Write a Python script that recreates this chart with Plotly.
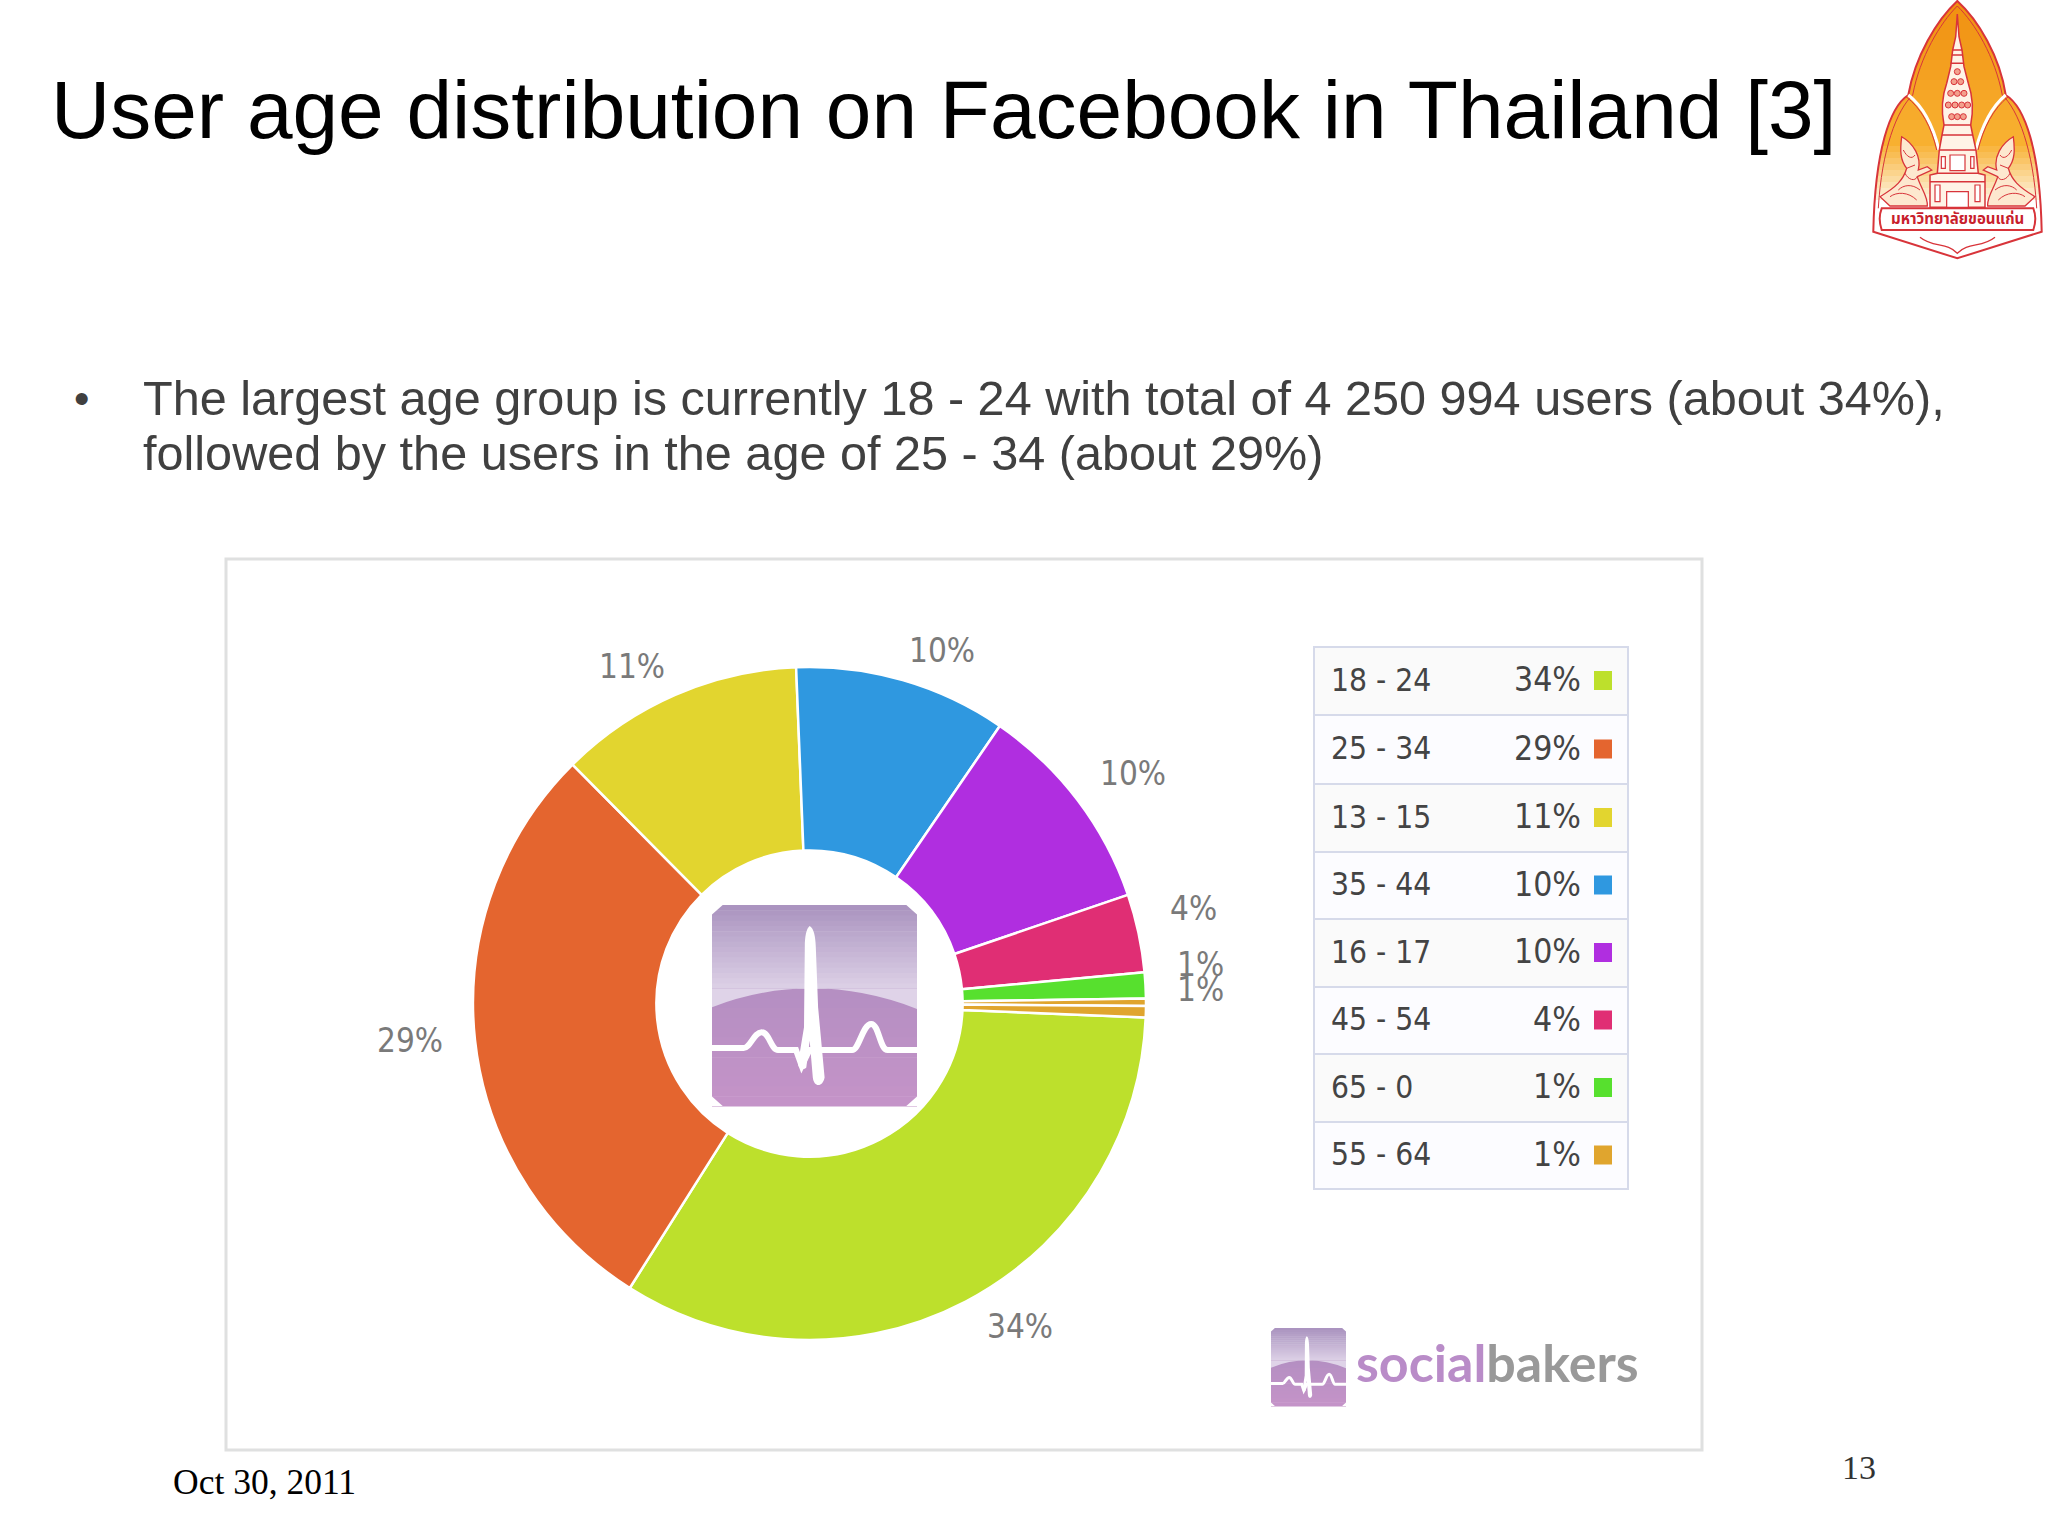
import re
import plotly.graph_objects as go

age_groups = ["18 - 24", "25 - 34", "13 - 15", "35 - 44", "16 - 17", "45 - 54", "65 - 0", "55 - 64"]
age_percent = ["34%", "29%", "11%", "10%", "10%", "4%", "1%", "1%"]
age_colors = ["#bde02c", "#e4652f", "#e2d52f", "#2f98e0", "#b02ee0", "#e02e74", "#57e02e", "#e0a52e"]

# one extra thin slice is in the ring but has no row in the table
slice_names = age_groups + ["other"]
slice_values = [33.3, 28.6, 11.8, 10.2, 10.2, 3.75, 1.25, 0.35, 0.55]
slice_colors = age_colors + ["#e0a52e"]

pie_labels = ["34%", "29%", "11%", "10%", "10%", "4%", "1%", "1%"]
pie_label_x = [1020, 410, 632, 942, 1133, 1193, 1200, 1200]
pie_label_y = [1326, 1040, 666, 650, 773, 908, 964, 989]

W, H = 2048, 1536
cx, cy, r = 809.5, 1003.5, 336.5

shapes = []


def conv(path, ox, oy, s=3.0):
    # zoomed crop coordinates -> page pixels
    def rep(m):
        return f"{ox + float(m.group(1)) / s:.1f},{oy + float(m.group(2)) / s:.1f}"
    return re.sub(r"(-?[\d.]+),(-?[\d.]+)", rep, path)


def add_path(path, fill=None, line=None, width=0):
    shapes.append(dict(type="path", path=path, fillcolor=fill or "rgba(0,0,0,0)",
                       line=dict(color=line or "rgba(0,0,0,0)", width=width), layer="above"))


def add_rect(x0, y0, x1, y1, fill=None, line=None, width=0, layer="above"):
    shapes.append(dict(type="rect", x0=x0, y0=y0, x1=x1, y1=y1, fillcolor=fill or "rgba(0,0,0,0)",
                       line=dict(color=line or "rgba(0,0,0,0)", width=width), layer=layer))


def mix(c1, c2, t):
    a = [int(c1[i:i + 2], 16) for i in (1, 3, 5)]
    b = [int(c2[i:i + 2], 16) for i in (1, 3, 5)]
    return "rgb(%d,%d,%d)" % tuple(round(p + (q - p) * t) for p, q in zip(a, b))


def gradient(x0, x1, y0, y1, c1, c2, steps=24):
    for i in range(steps):
        ya = y0 + (y1 - y0) * i / steps
        yb = y0 + (y1 - y0) * (i + 1) / steps + 0.6
        add_rect(x0, ya, x1, yb, fill=mix(c1, c2, i / (steps - 1)))


def pulse_icon(ox, oy, w, h, line_w):
    # coordinates are from the crop of the ring centre
    x0, x1, y0, y1 = 185, 722, 135, 735
    X = lambda v: ox + (v - x0) * w / (x1 - x0)
    Y = lambda v: oy + (v - y0) * h / (y1 - y0)

    def icon_path(p):
        return re.sub(r"(-?[\d.]+),(-?[\d.]+)",
                      lambda m: f"{X(float(m.group(1))):.1f},{Y(float(m.group(2))):.1f}", p)

    gradient(X(x0), X(x1), Y(y0), Y(385), "#ab94c0", "#dbcfe5", 16)
    gradient(X(x0), X(x1), Y(385), Y(y1), "#b58fc2", "#c493c8", 12)
    add_path(icon_path("M185,385 L185,440 Q450,325 722,445 L722,385 Z"), fill="#dfd3e8")
    c = 28
    for px, py, dx, dy in [(x0, y0, 1, 1), (x1, y0, -1, 1), (x0, y1, 1, -1), (x1, y1, -1, -1)]:
        add_path(icon_path(f"M{px},{py} L{px + dx * c},{py} L{px},{py + dy * c} Z"), fill="#ffffff")
    add_path(icon_path("M185,562 L268,562 C285,562 295,515 315,515 C335,515 340,568 358,568 L405,568 "
                       "L420,615 L440,568 L490,568 L552,568 C570,568 580,490 602,490 C622,490 625,568 645,568 L722,568"),
             line="#ffffff", width=line_w)
    add_path(icon_path("M441,198 C452,205 456,230 457,260 L463,440 L480,650 C475,680 452,680 449,650 L441,540 "
                       "L432,620 C425,630 412,625 410,610 L426,500 L428,260 C428,230 432,205 441,198 Z"),
             fill="#ffffff")


fig = go.Figure()
fig.add_trace(go.Scatter(x=[0, W], y=[0, H], mode="markers", marker=dict(opacity=0),
                         hoverinfo="skip", showlegend=False))
fig.add_trace(go.Pie(
    labels=slice_names, values=slice_values, sort=False, direction="clockwise", rotation=92.4,
    hole=0.455, textinfo="none", showlegend=False,
    marker=dict(colors=slice_colors, line=dict(color="#ffffff", width=2.5)),
    domain=dict(x=[(cx - r) / W, (cx + r) / W], y=[1 - (cy + r) / H, 1 - (cy - r) / H]),
))

# picture frame
add_rect(226, 559, 1702, 1450, fill="#ffffff", line="#dfe0e0", width=3, layer="below")

# centre icon
pulse_icon(712, 905, 205, 201, 6)

# small icon next to the brand name
pulse_icon(1271, 1328, 75, 78, 3)

annotations = []


def add_text(x, y, text, size, color="#000000", family="Liberation Sans", anchor="left"):
    annotations.append(dict(x=x, y=y, xref="x", yref="y", text=text, showarrow=False, xanchor=anchor,
                            yanchor="middle", borderpad=0, font=dict(size=size, color=color, family=family)))


for tx, ty, label in zip(pie_label_x, pie_label_y, pie_labels):
    add_text(tx, ty, label, 33, "#7a7a7a", "DejaVu Sans Condensed", "center")

# table next to the ring
row_edges = [647, 715, 784, 852, 919, 987, 1054, 1122, 1189]
row_fill = ["#fafafa", "#fcfcff"]
for i, (name, pct, col) in enumerate(zip(age_groups, age_percent, age_colors)):
    y0, y1 = row_edges[i], row_edges[i + 1]
    ym = (y0 + y1) / 2
    add_rect(1314, y0, 1628, y1, fill=row_fill[i % 2], line="#d6daea", width=2)
    add_rect(1594, ym - 10, 1612, ym + 9, fill=col)
    add_text(1330, ym - 1.5, name, 31.5, "#444444", "DejaVu Sans Condensed")
    add_text(1582, ym - 1.5, pct, 33.5, "#444444", "DejaVu Sans Condensed", "right")

# brand name
add_text(1355, 1362, "<span style='color:#b98cc8'>social</span><span style='color:#999999'>bakers</span>",
         52, "#999999", "Lato", "left")
annotations[-1]["font"]["weight"] = 700

# university seal, coordinates from the 3x crop of the top right corner
OX, OY = 1840, 0
sil = ("M352,3 C290,60 225,170 205,285 C150,320 105,450 100,695 L352,775 L605,695 "
       "C600,450 555,320 497,285 C480,170 415,60 352,3 Z")
gradient(1860, 2048, 0, 140, "#f09010", "#f8b030", 14)
gradient(1860, 2048, 140, 200, "#f8b030", "#fdf0d8", 10)
add_rect(1860, 200, 2048, 262, fill="#ffffff")
add_path(f"M1850,-2 H2048 V270 H1850 Z {conv(sil, OX, OY)}", fill="#ffffff")
red = "#d8343a"
add_path(conv(sil, OX, OY), line=red, width=2)
add_path(conv("M352,18 C300,70 240,170 218,285 C170,330 125,450 115,625", OX, OY), line=red, width=1)
add_path(conv("M352,18 C405,70 465,170 487,285 C535,330 580,450 590,625", OX, OY), line=red, width=1)
add_path(conv("M205,285 C250,320 280,380 297,450 M497,285 C455,320 425,380 407,450", OX, OY), line="#ffffff", width=3)
add_path(conv("M198,290 C245,325 275,385 290,450 M505,290 C460,325 430,385 414,450", OX, OY), line=red, width=1)

# stupa
add_path(conv("M352,42 L357,110 L366,150 L372,200 L385,250 C402,300 398,345 392,375 L398,405 L408,450 L415,520 "
              "L435,525 L435,622 L270,622 L270,525 L292,520 L298,450 L306,405 L312,375 "
              "C306,345 302,300 320,250 L332,200 L338,150 L347,110 Z", OX, OY), fill="#fff3e6", line=red, width=1.5)
add_path(conv("M338,150 L366,150 M335,165 L369,165 M332,190 L372,190 M312,375 L392,375 M306,405 L398,405 "
              "M298,450 L408,450 M292,520 L415,520 M270,545 L435,545", OX, OY), line=red, width=1.5)
for ax, ay in [(352, 215), (342, 245), (362, 245), (332, 280), (352, 280), (372, 280),
               (325, 315), (345, 315), (365, 315), (383, 315), (335, 350), (352, 350), (370, 350)]:
    shapes.append(dict(type="circle", x0=OX + (ax - 9) / 3, y0=(ay - 9) / 3, x1=OX + (ax + 9) / 3, y1=(ay + 9) / 3,
                       fillcolor="#f3a08c", line=dict(color=red, width=1), layer="above"))
for bx0, bx1, by0, by1 in [(304, 316, 470, 505), (330, 375, 465, 512), (392, 402, 470, 505), (285, 300, 555, 605),
                           (320, 385, 575, 622), (405, 420, 555, 605)]:
    add_rect(OX + bx0 / 3, by0 / 3, OX + bx1 / 3, by1 / 3, fill="#ffffff", line=red, width=1.2)

# angels on both sides of the stupa
for mirror in (False, True):
    f = (lambda v: 705 - v) if mirror else (lambda v: v)
    body = (f"M{f(185)},410 C{f(180)},450 {f(180)},480 {f(200)},505 C{f(190)},540 {f(170)},560 {f(120)},590 "
            f"L{f(150)},618 L{f(262)},618 C{f(265)},590 {f(240)},560 {f(232)},530 L{f(275)},510 L{f(262)},500 "
            f"L{f(235)},510 C{f(245)},470 {f(220)},430 {f(185)},410 Z")
    add_path(conv(body, OX, OY), fill="#fde8cf", line=red, width=1.3)
    add_path(conv(f"M{f(190)},450 C{f(200)},470 {f(215)},480 {f(225)},465 M{f(195)},520 C{f(205)},540 {f(225)},545 {f(232)},530 "
                  f"M{f(150)},590 C{f(170)},575 {f(205)},575 {f(230)},600 M{f(200)},505 L{f(225)},495 "
                  f"M{f(175)},570 C{f(190)},555 {f(215)},550 {f(240)},570", OX, OY), line=red, width=1)

# name banner
add_path(conv("M125,625 L580,625 Q592,655 580,690 L125,690 Q113,655 125,625 Z", OX, OY), fill="#ffffff", line=red, width=2)
add_path(conv("M240,712 C280,745 320,725 352,760 C385,725 425,745 465,712", OX, OY), line=red, width=1.3)
add_text(1957, 219, "มหาวิทยาลัยขอนแก่น", 15, "#c8202c", "Noto Sans Thai, DejaVu Sans", "center")
annotations[-1]["font"]["weight"] = 700

# slide text
add_text(50, 109, "User age distribution on Facebook in Thailand [3]", 82, "#000000")
add_text(73, 398, "•", 44, "#404040")
add_text(142, 398, "The largest age group is currently 18 - 24 with total of 4 250 994 users (about 34%),", 48.6, "#404040")
add_text(142, 453, "followed by the users in the age of 25 - 34 (about 29%)", 48.6, "#404040")
add_text(172, 1482, "Oct 30, 2011", 35.5, "#000000", "Liberation Serif")
add_text(1859, 1467, "13", 34, "#333333", "Liberation Serif", "center")

fig.update_layout(
    width=W, height=H, margin=dict(l=0, r=0, t=0, b=0), paper_bgcolor="#ffffff", plot_bgcolor="rgba(0,0,0,0)",
    xaxis=dict(range=[0, W], visible=False, fixedrange=True),
    yaxis=dict(range=[H, 0], visible=False, fixedrange=True),
    shapes=shapes, annotations=annotations, hovermode=False,
)

fig.write_html("out.html", config=dict(displayModeBar=False),
               post_script="document.body.style.margin='0';")
